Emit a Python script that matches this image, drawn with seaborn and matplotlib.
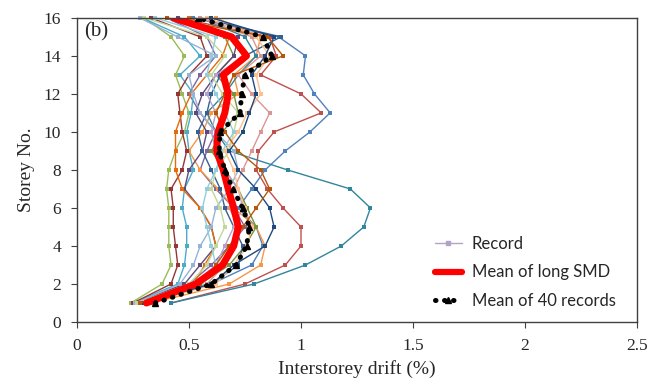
import numpy as np
import pandas as pd
import seaborn as sns
import matplotlib.pyplot as plt
from matplotlib.lines import Line2D

storeys = list(range(1, 17))

# individual records (drift %, storey 1..16)
records = [
    [0.30, 0.60, 0.78, 0.83, 0.80, 0.72, 0.78, 0.84, 0.93, 1.04, 1.13, 1.06, 1.01, 1.02, 0.90, 0.52],
    [0.42, 0.75, 0.93, 1.00, 1.00, 0.92, 0.85, 0.80, 0.81, 0.88, 1.09, 1.00, 0.82, 0.89, 0.86, 0.45],
    [0.24, 0.38, 0.42, 0.41, 0.41, 0.41, 0.40, 0.41, 0.44, 0.48, 0.50, 0.47, 0.44, 0.48, 0.42, 0.30],
    [0.27, 0.50, 0.60, 0.68, 0.75, 0.70, 0.62, 0.55, 0.58, 0.62, 0.55, 0.50, 0.55, 0.62, 0.58, 0.40],
    [0.25, 0.45, 0.48, 0.49, 0.49, 0.47, 0.48, 0.52, 0.50, 0.49, 0.51, 0.52, 0.46, 0.55, 0.48, 0.29],
    [0.33, 0.68, 0.82, 0.84, 0.80, 0.70, 0.63, 0.55, 0.50, 0.56, 0.60, 0.72, 0.70, 0.80, 0.82, 0.62],
    [0.42, 0.79, 1.02, 1.18, 1.28, 1.31, 1.22, 0.94, 0.68, 0.62, 0.58, 0.66, 0.72, 0.80, 0.75, 0.55],
    [0.25, 0.42, 0.45, 0.44, 0.43, 0.43, 0.42, 0.47, 0.49, 0.47, 0.46, 0.45, 0.50, 0.58, 0.55, 0.33],
    [0.28, 0.55, 0.68, 0.75, 0.80, 0.76, 0.72, 0.66, 0.60, 0.65, 0.72, 0.70, 0.62, 0.70, 0.66, 0.45],
    [0.26, 0.48, 0.55, 0.62, 0.60, 0.55, 0.48, 0.50, 0.56, 0.58, 0.53, 0.56, 0.62, 0.70, 0.72, 0.45],
    [0.30, 0.60, 0.72, 0.74, 0.70, 0.66, 0.64, 0.60, 0.56, 0.54, 0.58, 0.60, 0.64, 0.75, 0.91, 0.55],
    [0.27, 0.52, 0.57, 0.62, 0.60, 0.55, 0.47, 0.44, 0.44, 0.44, 0.47, 0.51, 0.58, 0.65, 0.68, 0.50],
    [0.26, 0.46, 0.52, 0.55, 0.60, 0.62, 0.68, 0.72, 0.70, 0.62, 0.55, 0.52, 0.50, 0.62, 0.45, 0.28],
    [0.30, 0.58, 0.66, 0.70, 0.72, 0.68, 0.70, 0.74, 0.78, 0.82, 0.86, 0.78, 0.72, 0.82, 0.78, 0.55],
    [0.27, 0.50, 0.58, 0.62, 0.66, 0.64, 0.60, 0.62, 0.68, 0.70, 0.72, 0.65, 0.60, 0.66, 0.58, 0.30],
    [0.28, 0.52, 0.62, 0.66, 0.70, 0.74, 0.72, 0.66, 0.62, 0.60, 0.62, 0.58, 0.62, 0.75, 0.70, 0.40],
    [0.29, 0.56, 0.62, 0.60, 0.58, 0.56, 0.58, 0.62, 0.65, 0.70, 0.66, 0.62, 0.58, 0.60, 0.62, 0.35],
    [0.31, 0.62, 0.70, 0.76, 0.78, 0.75, 0.72, 0.70, 0.66, 0.72, 0.76, 0.82, 0.80, 0.86, 0.80, 0.58],
    [0.29, 0.60, 0.70, 0.84, 0.88, 0.86, 0.80, 0.72, 0.68, 0.74, 0.77, 0.80, 0.78, 0.84, 0.88, 0.60],
    [0.28, 0.55, 0.62, 0.68, 0.74, 0.80, 0.86, 0.82, 0.72, 0.66, 0.62, 0.66, 0.70, 0.92, 0.85, 0.40],
]
record_colors = ['#4F81BD', '#C0504D', '#9BBB59', '#8064A2', '#4BACC6', '#F79646',
                 '#31859C', '#943634', '#77933C', '#5F497A', '#366092', '#E46C0A',
                 '#95B3D7', '#D99694', '#C3D69B', '#B2A2C7', '#92CDDC', '#FAC090',
                 '#1F497D', '#B65708']

mean_long = [0.31, 0.53, 0.65, 0.70, 0.72, 0.70, 0.675, 0.653, 0.623, 0.63, 0.66, 0.675, 0.653, 0.757, 0.69, 0.43]
mean_40 = [0.35, 0.60, 0.71, 0.757, 0.77, 0.74, 0.695, 0.66, 0.635, 0.638, 0.728, 0.735, 0.75, 0.87, 0.83, 0.54]

rows = []
for i, r in enumerate(records):
    for s, v in zip(storeys, r):
        rows.append({'rec': i, 'storey': s, 'drift': v})
df = pd.DataFrame(rows)

sns.set_style('white')
fig = plt.figure(figsize=(6.63, 3.88), dpi=100)
ax = fig.add_axes([0.116, 0.170, 0.845, 0.784])

sns.lineplot(data=df, x='drift', y='storey', hue='rec', palette=record_colors,
             estimator=None, sort=False, orient='y', marker='s', markersize=3.2,
             markeredgewidth=0, linewidth=1.0, legend=False, ax=ax, clip_on=False)

sns.lineplot(x=mean_long, y=storeys, sort=False, orient='y', estimator=None,
             color='#FF0000', linewidth=5, ax=ax)
ax.plot(mean_40, storeys, color='black', linewidth=3.6, linestyle=(0, (0.1, 1.7)),
        dash_capstyle='round', marker='^', markersize=4)

ax.set_xlim(0, 2.5)
ax.set_ylim(0, 16)
ax.set_xticks(np.arange(0, 2.51, 0.5))
ax.set_xticklabels(['0', '0.5', '1', '1.5', '2', '2.5'])
ax.set_yticks(range(0, 17, 2))

serif = ['Liberation Serif', 'DejaVu Serif']
for lab in ax.get_xticklabels() + ax.get_yticklabels():
    lab.set_family(serif)
    lab.set_fontsize(12.5)
ax.set_xlabel('Interstorey drift (%)', family=serif, fontsize=14, labelpad=4)
ax.set_ylabel('Storey No.', family=serif, fontsize=14, labelpad=6)
ax.tick_params(direction='out', length=4.5, width=0.8, color='#404040',
               bottom=True, left=True, pad=7)
for sp in ax.spines.values():
    sp.set_color('#404040')
    sp.set_linewidth(1)

ax.text(0.012, 0.953, '(b)', transform=ax.transAxes, family=serif, fontsize=15,
        va='center', ha='left')

handles = [
    Line2D([], [], color='#B2A2C7', marker='s', markersize=3, linewidth=1),
    Line2D([], [], color='#FF0000', linewidth=4.5),
    Line2D([], [], color='black', linewidth=3.6, linestyle=(0, (0.1, 1.7)),
           dash_capstyle='round', marker='^', markersize=4),
]
ax.legend(handles, ['Record', 'Mean of long SMD', 'Mean of 40 records'],
          loc='lower left', bbox_to_anchor=(0.639, 0.043), frameon=False,
          borderaxespad=0, borderpad=0,
          prop={'family': ['Lato', 'DejaVu Sans'], 'size': 12},
          handlelength=1.6, handletextpad=0.6, labelspacing=0.75)

fig.savefig('out.png', dpi=100)
